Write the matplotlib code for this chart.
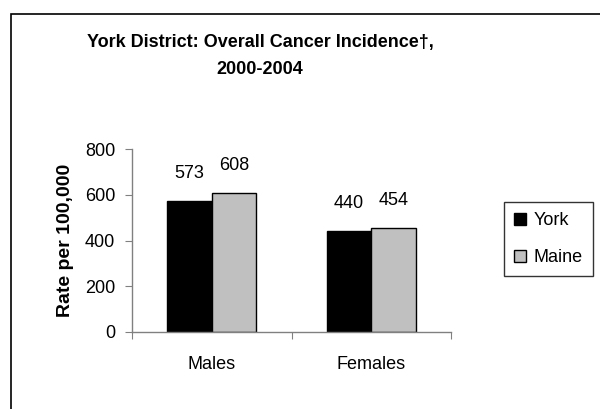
import matplotlib
matplotlib.use("Agg")
import matplotlib.pyplot as plt
from matplotlib.patches import Rectangle
import numpy as np

plt.rcParams['font.family'] = ['Liberation Sans', 'DejaVu Sans']

categories = ["Males", "Females"]
series_names = ["York", "Maine"]
york = [573, 440]
maine = [608, 454]
yticks = [0, 200, 400, 600, 800]
title_lines = ["York District: Overall Cancer Incidence\u2020,", "2000-2004"]
ylabel = "Rate per 100,000"

colors = ["#000000", "#c0c0c0"]
FS = 13

fig = plt.figure(figsize=(6.0, 4.09), dpi=100)
# outer frame
fig.patches.append(Rectangle((10.5/600, -0.05), 1.2, (409-13.5)/409 + 0.05,
                             transform=fig.transFigure, fill=False,
                             edgecolor="#000000", linewidth=1.2))

ax = fig.add_axes([132/600, 1-332/409, (451-132)/600, (332-149)/409])
x = np.arange(len(categories))
w = 0.28
b1 = ax.bar(x - w/2, york, w, color=colors[0], edgecolor="black", linewidth=1, label=series_names[0])
b2 = ax.bar(x + w/2, maine, w, color=colors[1], edgecolor="black", linewidth=1, label=series_names[1])

for bars, vals in ((b1, york), (b2, maine)):
    for r, v in zip(bars, vals):
        ax.annotate(f"{v}", (r.get_x() + r.get_width()/2, v), xytext=(0, 20),
                    textcoords="offset points", ha="center", va="center", fontsize=FS)

ax.set_xlim(-0.5, len(categories) - 0.5)
ax.set_ylim(0, 800)
ax.set_yticks(yticks)
ax.set_yticklabels([str(t) for t in yticks], fontsize=FS)
ax.set_xticks(np.arange(len(categories) + 1) - 0.5)
ax.set_xticklabels([])
ax.set_xticks(x, minor=True)
ax.set_xticklabels(categories, minor=True, fontsize=FS)
ax.tick_params(axis="x", which="minor", length=0, pad=17)
ax.tick_params(axis="x", which="major", length=5, color="#808080", direction="out")
ax.tick_params(axis="y", length=5, color="#808080", direction="out", pad=7)

for s in ("top", "right"):
    ax.spines[s].set_visible(False)
for s in ("left", "bottom"):
    ax.spines[s].set_color("#808080")
    ax.spines[s].set_linewidth(1)

ax.set_ylabel(ylabel, fontsize=14, fontweight="bold", labelpad=8)

fig.text(260/600, 1-42/409, title_lines[0], ha="center", va="center", fontsize=13, fontweight="bold")
fig.text(260/600, 1-70/409, title_lines[1], ha="center", va="center", fontsize=13, fontweight="bold")

leg = fig.legend(handles=[b1, b2], labels=series_names, loc="upper left",
                 bbox_to_anchor=(504/600, 1-202/409),
                 bbox_transform=fig.transFigure, frameon=True, fancybox=False,
                 fontsize=FS, handlelength=0.65, handleheight=0.65, handletextpad=0.45,
                 borderpad=0.55, labelspacing=1.12, borderaxespad=0)
leg.get_frame().set_edgecolor("#000000")
leg.get_frame().set_linewidth(1)

fig.savefig("out.png", dpi=100)
